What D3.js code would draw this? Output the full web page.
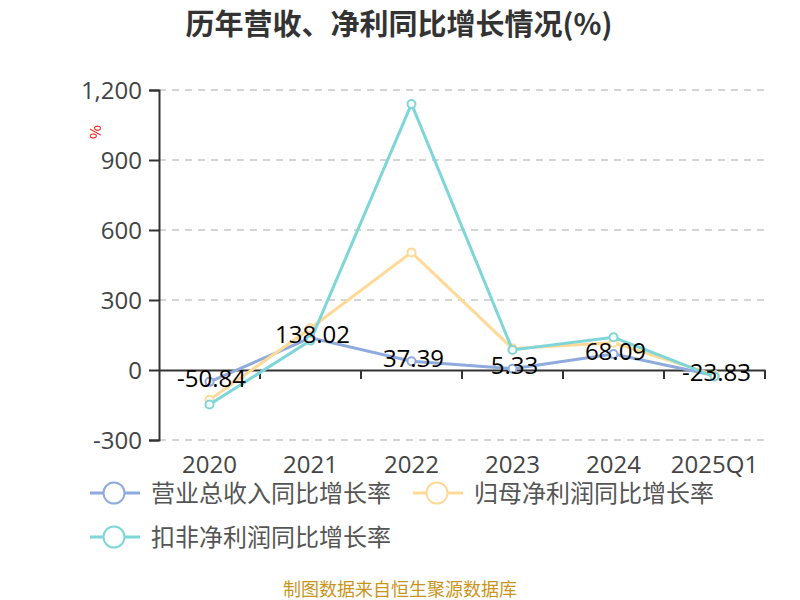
<!DOCTYPE html>
<html><head><meta charset="utf-8">
<script src="https://cdn.jsdelivr.net/npm/d3@7/dist/d3.min.js"></script>
<style>body{margin:0;background:#fff;}svg{display:block;font-family:"Noto Sans CJK SC","Noto Sans",sans-serif;}</style>
</head><body><svg id="c" width="800" height="600"></svg>
<script>
const categories = ["2020","2021","2022","2023","2024","2025Q1"];
const revenueGrowth = [-50.84, 138.02, 37.39, 5.33, 68.09, -23.83];
const netProfitGrowth = [-128, 179, 504, 92, 117, -21];
const deductedProfitGrowth = [-148, 126, 1140, 86, 140, -28];
const yTicks = [-300, 0, 300, 600, 900, 1200];
const seriesNames = ["营业总收入同比增长率","归母净利润同比增长率","扣非净利润同比增长率"];
const colors = ["#8faadc","#ffd996","#7fd6d8"];

const svg = d3.select("#c");
const L = 159, R = 765, T = 90, B = 440;
const numFont = "'Open Sans','Noto Sans',sans-serif";
const x = d3.scaleBand().domain(categories).range([L, R]);
const y = d3.scaleLinear().domain([-300, 1200]).range([B, T]);
const cx = c => x(c) + x.bandwidth() / 2;

svg.append("text").attr("x", 399).attr("y", 35).attr("text-anchor", "middle")
  .attr("font-size", 29).attr("font-weight", "bold").attr("fill", "#333")
  .text("历年营收、净利同比增长情况(%)");

// grid
svg.append("g").selectAll("line").data(yTicks.filter(d => d !== 0)).join("line")
  .attr("x1", L).attr("x2", 768).attr("y1", d => y(d)).attr("y2", d => y(d))
  .attr("stroke", "#c8c8c8").attr("stroke-width", 1.5).attr("stroke-dasharray", "7,6");

// y axis
const yAxis = svg.append("g").attr("transform", `translate(${L},0)`)
  .call(d3.axisLeft(y).tickValues(yTicks).tickSize(10).tickPadding(7).tickFormat(d => d3.format(",")(d).replace("−", "-")));
yAxis.select(".domain").attr("stroke", "#333").attr("stroke-width", 2);
yAxis.selectAll(".tick line").attr("stroke", "#333").attr("stroke-width", 2);
yAxis.selectAll("text").attr("font-size", 24).attr("fill", "#444").attr("font-family", numFont).attr("dy", "0.36em");

// x axis at zero
const xAxis = svg.append("g").attr("transform", `translate(0,${y(0)})`)
  .call(d3.axisBottom(x).tickSize(0).tickFormat(""));
xAxis.select(".domain").attr("stroke", "#333").attr("stroke-width", 2);
const bounds = categories.map(c => x(c)).concat([R]).slice(1);
svg.append("g").selectAll("line").data(bounds).join("line")
  .attr("x1", d => d).attr("x2", d => d).attr("y1", y(0)).attr("y2", y(0) + 9)
  .attr("stroke", "#333").attr("stroke-width", 2);
svg.append("g").selectAll("text").data(categories).join("text")
  .attr("x", d => cx(d)).attr("y", 473).attr("text-anchor", "middle")
  .attr("font-size", 24).attr("fill", "#444").attr("font-family", numFont)
  .text(d => d);

// unit label
svg.append("text").attr("transform", "translate(101,132) rotate(-90)").attr("text-anchor", "middle")
  .attr("font-size", 15).attr("fill", "#f00").text("%");

const allSeries = [revenueGrowth, netProfitGrowth, deductedProfitGrowth];
const line = d3.line().x((d, i) => cx(categories[i])).y(d => y(d));
allSeries.forEach((s, k) => {
  const g = svg.append("g");
  g.append("path").attr("d", line(s)).attr("fill", "none").attr("stroke", colors[k]).attr("stroke-width", 3);
  g.selectAll("circle").data(s).join("circle")
    .attr("cx", (d, i) => cx(categories[i])).attr("cy", d => y(d)).attr("r", 4)
    .attr("fill", "#fff").attr("stroke", colors[k]).attr("stroke-width", 2);
});

// labels for revenue
svg.append("g").selectAll("text").data(revenueGrowth).join("text")
  .attr("x", (d, i) => cx(categories[i]) + 2).attr("y", d => y(d) + 5.5)
  .attr("text-anchor", "middle")
  .attr("font-size", 24).attr("fill", "#000").attr("font-family", numFont)
  .text(d => d.toFixed(2));

// legend
const legPos = [[90, 493], [413, 493], [90, 537]];
seriesNames.forEach((n, k) => {
  const [lx, ly] = legPos[k];
  const g = svg.append("g");
  g.append("line").attr("x1", lx).attr("x2", lx + 50).attr("y1", ly).attr("y2", ly)
    .attr("stroke", colors[k]).attr("stroke-width", 3);
  g.append("circle").attr("cx", lx + 24).attr("cy", ly).attr("r", 10.5)
    .attr("fill", "#fff").attr("stroke", colors[k]).attr("stroke-width", 2);
  g.append("text").attr("x", lx + 61).attr("y", ly + 8.5)
    .attr("font-size", 24).attr("fill", "#555").text(n);
});

svg.append("text").attr("x", 400).attr("y", 596).attr("text-anchor", "middle")
  .attr("font-size", 18).attr("fill", "#c8951e").text("制图数据来自恒生聚源数据库");
</script></body></html>
